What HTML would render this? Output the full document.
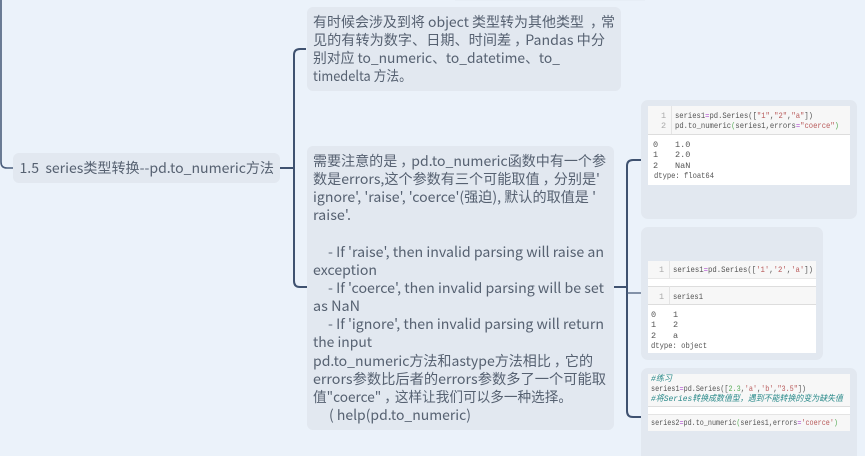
<!DOCTYPE html>
<html><head><meta charset="utf-8"><style>
html,body{margin:0;padding:0;background:#ebf2fa;width:865px;height:456px;overflow:hidden}
svg{display:block}
.n{font-family:"Noto Sans CJK SC","Liberation Sans",sans-serif;font-size:14px;fill:#566171}
.c{font-family:"Liberation Mono","Noto Sans CJK SC",monospace;font-size:8.5px;fill:#555}
.g{font-family:"Liberation Mono",monospace;font-size:8.5px;fill:#aaa}
.k{fill:#b85a5a}.p{fill:#b04fd0}.v{fill:#5cae5c}
.i{font-family:"Liberation Mono","Noto Sans CJK SC",monospace;font-size:8.5px;fill:#2a8a8a;font-style:italic}
</style></head><body>
<svg width="865" height="456" viewBox="0 0 865 456" xmlns="http://www.w3.org/2000/svg">
<rect width="865" height="456" fill="#ebf2fa"/>
<rect x="455" y="-4" width="190" height="5" fill="#e7eef6"/>

<g fill="none" stroke="#4b5e7c" stroke-width="1.6">
<path d="M1 0V162Q1 168 7 168H13"/>
</g>
<g fill="none" stroke="#3f5270" stroke-width="2">
<path d="M280 168H294"/>
<path d="M306 49H300Q294 49 294 55V281Q294 287 300 287H307"/>
<path d="M614 287H627"/>
<path d="M641 160H633Q627 160 627 166V411Q627 417 633 417H641"/>
</g>
<path d="M627 293H641" stroke="#4b5e7c" stroke-width="1.3"/>

<rect x="13" y="153" width="267" height="30" rx="6" fill="#e2e8f0"/>
<rect x="307" y="7" width="314" height="84" rx="6" fill="#e2e8f0"/>
<rect x="307" y="146" width="307" height="284" rx="6" fill="#e2e8f0"/>
<rect x="641" y="100" width="216" height="119" rx="7" fill="#e2e8f0"/>
<rect x="641" y="227" width="182" height="133" rx="7" fill="#e2e8f0"/>
<rect x="641" y="368" width="216" height="100" rx="7" fill="#e2e8f0"/>

<text class="n" x="19.5" y="173" textLength="254.5" lengthAdjust="spacingAndGlyphs" style="white-space:pre">1.5  series类型转换--pd.to_numeric方法</text>

<g class="n">
<text x="313" y="27" textLength="302" lengthAdjust="spacingAndGlyphs">有时候会涉及到将 object 类型转为其他类型 <tspan dx="3">，</tspan><tspan dx="-3">常</tspan></text>
<text x="313" y="45" textLength="292" lengthAdjust="spacingAndGlyphs">见的有转为数字、日期、时间差<tspan dx="3">，</tspan><tspan dx="-3">Pandas</tspan> 中分</text>
<text x="313" y="63" textLength="247" lengthAdjust="spacingAndGlyphs">别对应 to_numeric、to_datetime、to_</text>
<text x="313" y="81" textLength="99" lengthAdjust="spacingAndGlyphs">timedelta 方法。</text>

<text x="313" y="166" textLength="293" lengthAdjust="spacingAndGlyphs">需要注意的是<tspan dx="3">，</tspan><tspan dx="-3">pd</tspan>.to_numeric函数中有一个参</text>
<text x="313" y="184" textLength="287" lengthAdjust="spacingAndGlyphs">数是errors,这个参数有三个可能取值<tspan dx="3">，</tspan><tspan dx="-3">分</tspan>别是'</text>
<text x="313" y="202" textLength="283" lengthAdjust="spacingAndGlyphs">ignore', 'raise', 'coerce'(强迫), 默认的取值是 '</text>
<text x="313" y="220" textLength="38" lengthAdjust="spacingAndGlyphs">raise'.</text>
<text x="328" y="257" textLength="276" lengthAdjust="spacingAndGlyphs">- If 'raise', then invalid parsing will raise an</text>
<text x="313" y="275" textLength="64" lengthAdjust="spacingAndGlyphs">exception</text>
<text x="328" y="293" textLength="276" lengthAdjust="spacingAndGlyphs">- If 'coerce', then invalid parsing will be set</text>
<text x="313" y="311" textLength="47" lengthAdjust="spacingAndGlyphs">as NaN</text>
<text x="328" y="329" textLength="276" lengthAdjust="spacingAndGlyphs">- If 'ignore', then invalid parsing will return</text>
<text x="313" y="347" textLength="59" lengthAdjust="spacingAndGlyphs">the input</text>
<text x="313" y="366" textLength="280" lengthAdjust="spacingAndGlyphs">pd.to_numeric方法和astype方法相比<tspan dx="3">，</tspan><tspan dx="-3">它</tspan>的</text>
<text x="313" y="384" textLength="293" lengthAdjust="spacingAndGlyphs">errors参数比后者的errors参数多了一个可能取</text>
<text x="313" y="402" textLength="259" lengthAdjust="spacingAndGlyphs">值"coerce"<tspan dx="3">，</tspan><tspan dx="-3">这</tspan>样让我们可以多一种选择。</text>
<text x="329" y="420" textLength="142" lengthAdjust="spacingAndGlyphs">( help(pd.to_numeric)</text>
</g>

<!-- image 1 -->
<rect x="648" y="106" width="202" height="79" fill="#fff"/>
<rect x="648" y="106" width="202" height="28" fill="#f7f7f7"/>
<rect x="648" y="134" width="202" height="1" fill="#ddd"/>
<rect x="671" y="106" width="1" height="28" fill="#e4e4e4"/>
<text class="g" x="661" y="118">1</text><text class="g" x="661" y="128">2</text>
<text class="c" x="675" y="118" textLength="138" lengthAdjust="spacingAndGlyphs">series1<tspan class="p">=</tspan>pd.Series([<tspan class="k">"1"</tspan>,<tspan class="k">"2"</tspan>,<tspan class="k">"a"</tspan>])</text>
<text class="c" x="675" y="128" textLength="164" lengthAdjust="spacingAndGlyphs">pd.to_numeric<tspan class="v">(</tspan>series1,errors<tspan class="p">=</tspan><tspan class="k">"coerce"</tspan><tspan class="v">)</tspan></text>
<text class="c" x="653" y="147">0</text><text class="c" x="675" y="147">1.0</text>
<text class="c" x="653" y="157">1</text><text class="c" x="675" y="157">2.0</text>
<text class="c" x="653" y="168">2</text><text class="c" x="675" y="168">NaN</text>
<text class="c" x="654" y="178" textLength="60" lengthAdjust="spacingAndGlyphs">dtype: float64</text>

<!-- image 2 -->
<rect x="648" y="261" width="168" height="92" fill="#fff"/>
<rect x="648" y="261" width="168" height="17" fill="#f7f7f7"/>
<rect x="648" y="286" width="168" height="18" fill="#f7f7f7"/>
<rect x="648" y="278" width="168" height="1" fill="#e8e8e8"/>
<rect x="648" y="286" width="168" height="1" fill="#ddd"/>
<rect x="648" y="304" width="168" height="1" fill="#ddd"/>
<rect x="669" y="261" width="1" height="17" fill="#e4e4e4"/>
<rect x="669" y="286" width="1" height="18" fill="#e4e4e4"/>
<text class="g" x="659" y="272">1</text><text class="g" x="659" y="299">1</text>
<text class="c" x="673" y="272" textLength="140" lengthAdjust="spacingAndGlyphs">series1<tspan class="p">=</tspan>pd.Series([<tspan class="k">'1'</tspan>,<tspan class="k">'2'</tspan>,<tspan class="k">'a'</tspan>])</text>
<text class="c" x="673" y="299" textLength="30" lengthAdjust="spacingAndGlyphs">series1</text>
<text class="c" x="651" y="317">0</text><text class="c" x="673" y="317">1</text>
<text class="c" x="651" y="327">1</text><text class="c" x="673" y="327">2</text>
<text class="c" x="651" y="338">2</text><text class="c" x="673" y="338">a</text>
<text class="c" x="651" y="348" textLength="56" lengthAdjust="spacingAndGlyphs">dtype: object</text>

<!-- image 3 -->
<rect x="648" y="374" width="202" height="57" fill="#f7f7f7"/>
<rect x="648" y="406" width="202" height="8" fill="#fff"/>
<rect x="648" y="406" width="202" height="1" fill="#ddd"/>
<rect x="648" y="414" width="202" height="1" fill="#e4e4e4"/>
<text class="i" x="651" y="381" textLength="21" lengthAdjust="spacingAndGlyphs">#练习</text>
<text class="c" x="651" y="391" textLength="155" lengthAdjust="spacingAndGlyphs">series1<tspan class="p">=</tspan>pd.Series([<tspan class="v">2.3</tspan>,<tspan class="k">'a'</tspan>,<tspan class="k">'b'</tspan>,<tspan class="k">"3.5"</tspan>])</text>
<text class="i" x="651" y="401" textLength="192" lengthAdjust="spacingAndGlyphs">#将Series转换成数值型，遇到不能转换的变为缺失值</text>
<text class="c" x="651" y="425" textLength="187" lengthAdjust="spacingAndGlyphs">series2<tspan class="p">=</tspan>pd.to_numeric<tspan class="v">(</tspan>series1,errors<tspan class="p">=</tspan><tspan class="k">'coerce'</tspan><tspan class="v">)</tspan></text>
</svg>
</body></html>
